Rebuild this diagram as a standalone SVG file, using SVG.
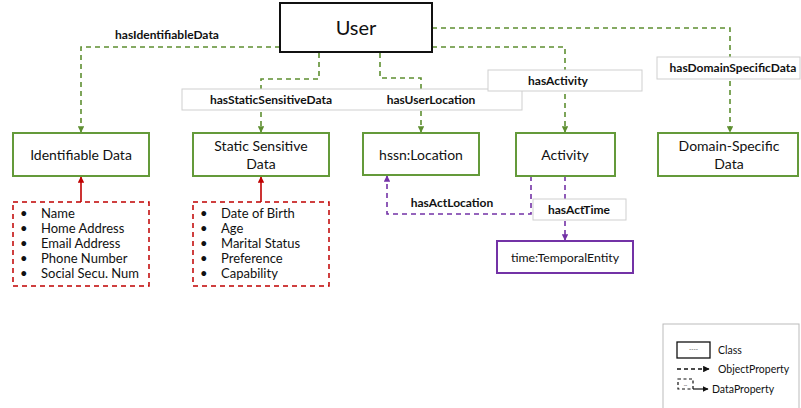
<svg xmlns="http://www.w3.org/2000/svg" width="801" height="408" viewBox="0 0 801 408">
<style>
text{font-family:Lato,"Open Sans","Liberation Sans",sans-serif;fill:#111}
.cls{fill:#fff;stroke:#649a3a;stroke-width:2}
.cn{font-size:14px;text-anchor:middle}
.lbl{font-size:12px;font-weight:bold;text-anchor:middle}
.lb{fill:#fff;stroke:#cfcfcf;stroke-width:1}
.g{fill:none;stroke:#5e8f31;stroke-width:1.6;stroke-dasharray:5,4}
.p{fill:none;stroke:#7332a6;stroke-width:1.6;stroke-dasharray:5,4}
.r{fill:none;stroke:#c00000;stroke-width:1.6}
.list{fill:#fff;stroke:#c00000;stroke-width:1.5;stroke-dasharray:5,4}
.it{font-size:13px}
.lg{font-size:10.5px}
</style>
<defs>
<marker id="ag" viewBox="0 0 10 10" refX="9" refY="5" markerWidth="4" markerHeight="4" orient="auto"><path d="M0,0L10,5L0,10z" fill="#5e8f31"/></marker>
<marker id="ap" viewBox="0 0 10 10" refX="9" refY="5" markerWidth="4" markerHeight="4" orient="auto"><path d="M0,0L10,5L0,10z" fill="#7332a6"/></marker>
<marker id="ar" viewBox="0 0 10 10" refX="9" refY="5" markerWidth="4" markerHeight="4" orient="auto"><path d="M0,0L10,5L0,10z" fill="#c00000"/></marker>
<marker id="ak" viewBox="0 0 10 10" refX="9" refY="5" markerWidth="5" markerHeight="5" orient="auto"><path d="M0,0L10,5L0,10z" fill="#111"/></marker>
</defs>

<g id="connectors">
<path class="g" d="M280,47H81V132" marker-end="url(#ag)"/>
<path class="g" d="M319,53V79H261V132" marker-end="url(#ag)"/>
<path class="g" d="M380,53V78H421V132" marker-end="url(#ag)"/>
<path class="g" d="M432,47H565V132" marker-end="url(#ag)"/>
<path class="g" d="M432,28H730V132" marker-end="url(#ag)"/>
<path class="r" d="M81,202V177" marker-end="url(#ar)"/>
<path class="r" d="M261,202V177" marker-end="url(#ar)"/>
<path class="p" d="M531,176V214H387V176" marker-end="url(#ap)"/>
<path class="p" d="M565,176V240" marker-end="url(#ap)"/>
</g>

<g id="labels">
<text class="lbl" x="167" y="39">hasIdentifiableData</text>
<rect class="lb" x="182" y="89" width="340" height="21"/>
<text class="lbl" x="271" y="104">hasStaticSensitiveData</text>
<text class="lbl" x="431" y="104">hasUserLocation</text>
<rect class="lb" x="488" y="70" width="154" height="21"/>
<text class="lbl" x="558" y="85">hasActivity</text>
<rect class="lb" x="657" y="57" width="143" height="22"/>
<text class="lbl" x="733" y="72">hasDomainSpecificData</text>
<text class="lbl" x="452" y="207">hasActLocation</text>
<rect class="lb" x="533" y="199" width="93" height="21"/>
<text class="lbl" x="579" y="214">hasActTime</text>
</g>

<g id="user">
<rect x="280" y="3" width="152" height="49" fill="#fff" stroke="#111" stroke-width="2"/>
<text x="356" y="35" font-size="20" text-anchor="middle">User</text>
</g>

<g id="identifiable-data">
<rect class="cls" x="13" y="133" width="136" height="43"/>
<text class="cn" x="81" y="160">Identifiable Data</text>
</g>

<g id="static-sensitive-data">
<rect class="cls" x="193" y="133" width="136" height="43"/>
<text class="cn" x="261" y="151">Static Sensitive</text>
<text class="cn" x="261" y="169">Data</text>
</g>

<g id="hssn-location">
<rect class="cls" x="363" y="133" width="116" height="42"/>
<text class="cn" x="421" y="160">hssn:Location</text>
</g>

<g id="activity">
<rect class="cls" x="516" y="133" width="99" height="43"/>
<text class="cn" x="565" y="160">Activity</text>
</g>

<g id="domain-specific-data">
<rect class="cls" x="658" y="133" width="140" height="43"/>
<text class="cn" x="729" y="151">Domain-Specific</text>
<text class="cn" x="729" y="169">Data</text>
</g>

<g id="temporal-entity">
<rect x="497" y="241" width="136" height="32" fill="#fff" stroke="#7332a6" stroke-width="2"/>
<text x="565" y="261.5" font-size="12.3" text-anchor="middle">time:TemporalEntity</text>
</g>

<g id="identifiable-list">
<rect class="list" x="13" y="202" width="136" height="84"/>
<g class="it">
<text x="20" y="218">•</text><text x="41" y="218">Name</text>
<text x="20" y="233">•</text><text x="41" y="233">Home Address</text>
<text x="20" y="248">•</text><text x="41" y="248">Email Address</text>
<text x="20" y="263">•</text><text x="41" y="263">Phone Number</text>
<text x="20" y="278">•</text><text x="41" y="278">Social Secu. Num</text>
</g>
</g>

<g id="static-list">
<rect class="list" x="193" y="202" width="136" height="84"/>
<g class="it">
<text x="200" y="218">•</text><text x="221" y="218">Date of Birth</text>
<text x="200" y="233">•</text><text x="221" y="233">Age</text>
<text x="200" y="248">•</text><text x="221" y="248">Marital Status</text>
<text x="200" y="263">•</text><text x="221" y="263">Preference</text>
<text x="200" y="278">•</text><text x="221" y="278">Capability</text>
</g>
</g>

<g id="legend">
<rect x="663" y="324" width="136" height="90" fill="#fff" stroke="#bbb" stroke-width="1"/>
<rect x="677" y="342" width="33" height="16" fill="#fff" stroke="#111" stroke-width="1.3"/>
<text x="693.5" y="351" font-size="6" text-anchor="middle">----</text>
<text class="lg" x="718" y="354">Class</text>
<path d="M677,369H704" stroke="#111" stroke-width="1.3" stroke-dasharray="4,3" fill="none"/>
<path d="M704,369H709" stroke="#111" stroke-width="1.3" marker-end="url(#ak)"/>
<text class="lg" x="718" y="373">ObjectProperty</text>
<rect x="678" y="379" width="15" height="10" fill="none" stroke="#111" stroke-width="1.2" stroke-dasharray="3,2.5"/>
<text x="685.5" y="386" font-size="5" text-anchor="middle">...</text>
<path d="M693,389H708" stroke="#111" stroke-width="1.2" marker-end="url(#ak)"/>
<text class="lg" x="712" y="393">DataProperty</text>
</g>
</svg>
